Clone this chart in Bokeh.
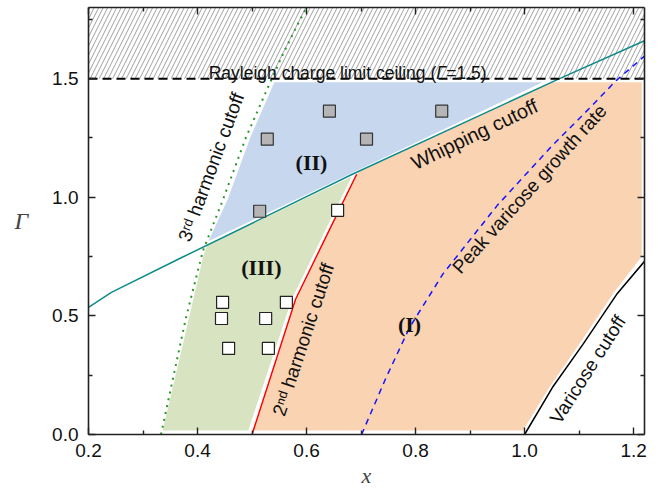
from bokeh.plotting import figure
from bokeh.models import LinearAxis, FixedTicker, Range1d, NumeralTickFormatter, CustomLabelingPolicy
from bokeh.core.properties import value
from bokeh.embed import file_html
from bokeh.resources import INLINE

# ---------------- data ----------------
x_ticks = [0.2, 0.4, 0.6, 0.8, 1.0, 1.2]
x_minor = [0.3, 0.5, 0.7, 0.9, 1.1]
y_ticks = [0.0, 0.5, 1.0, 1.5]
y_minor = [0.25, 0.75, 1.25, 1.75]

# cut-off curves (x, Gamma)
whip_x = [0.2, 0.242, 0.372, 0.684, 1.064, 1.22]
whip_y = [0.536, 0.599, 0.747, 1.097, 1.5, 1.66]
h2_x = [0.5, 0.58, 0.635, 0.692]
h2_y = [0.0, 0.57, 0.83, 1.097]
h3_x = [0.333, 0.379, 0.410, 0.446, 0.489, 0.532, 0.557, 0.581, 0.6]
h3_y = [0.0, 0.494, 0.775, 0.986, 1.253, 1.478, 1.605, 1.717, 1.8]
peak_x = [0.701, 0.745, 0.789, 0.85, 0.95, 1.05, 1.119, 1.168, 1.22]
peak_y = [0.0, 0.235, 0.451, 0.676, 0.966, 1.216, 1.375, 1.492, 1.595]
var_x = [1.0, 1.051, 1.107, 1.169, 1.22]
var_y = [0.0, 0.198, 0.38, 0.591, 0.73]
ceiling = 1.5

# regions
reg1_x = [0.503, 0.582, 0.637, 0.695, 1.05, 1.215, 1.215, 1.164, 1.103, 1.046, 0.997]
reg1_y = [0.017, 0.57, 0.83, 1.105, 1.485, 1.485, 0.75, 0.60, 0.39, 0.20, 0.017]
reg2_x = [0.42, 0.455, 0.497, 0.541, 1.033]
reg2_y = [0.815, 0.99, 1.253, 1.485, 1.485]
reg3_x = [0.336, 0.376, 0.41, 0.417, 0.683, 0.628, 0.573, 0.493]
reg3_y = [0.017, 0.409, 0.747, 0.797, 1.088, 0.83, 0.57, 0.017]

# experiments
grey_x = [0.528, 0.642, 0.710, 0.848, 0.514]
grey_y = [1.245, 1.363, 1.245, 1.363, 0.941]
open_x = [0.446, 0.444, 0.525, 0.563, 0.457, 0.530, 0.657]
open_y = [0.557, 0.489, 0.489, 0.557, 0.363, 0.363, 0.945]

X0, X1, Y0, Y1 = 0.2, 1.22, 0.0, 1.8

SANS = "Liberation Sans"
SERIF = "Liberation Serif"

p = figure(frame_width=556, frame_height=427, x_range=Range1d(X0, X1), y_range=Range1d(Y0, Y1),
           output_backend="svg", toolbar_location=None,
           min_border_left=88, min_border_right=8, min_border_top=7, min_border_bottom=0)
p.xgrid.visible = False
p.ygrid.visible = False
p.outline_line_color = None
p.background_fill_color = "white"
p.border_fill_color = "white"

# regions
p.patch(reg1_x, reg1_y, fill_color="#fad3b3", line_color=None)
p.patch(reg2_x, reg2_y, fill_color="#c6d7ee", line_color=None)
p.patch(reg3_x, reg3_y, fill_color="#d7e3c1", line_color=None)

# hatched forbidden zone above ceiling
p.quad(left=[X0 - 0.1], right=[X1 + 0.1], bottom=[ceiling], top=[Y1 + 0.1],
       fill_alpha=0, line_color=None, hatch_pattern="/", hatch_color="#a0a0a0",
       hatch_scale=9, hatch_weight=1)

# curves
p.line(h3_x, h3_y, line_color="#2c952c", line_width=2, line_dash="2 5")
p.line(whip_x, whip_y, line_color="#0f8a8a", line_width=1.5)
p.line(h2_x, h2_y, line_color="#ff0000", line_width=1.5)
p.line(peak_x, peak_y, line_color="#1414ff", line_width=1.5, line_dash="6 5")
p.line(var_x, var_y, line_color="black", line_width=1.5)
p.line([X0, X1], [ceiling, ceiling], line_color="black", line_width=2, line_dash="9 5")

# markers
p.scatter(grey_x, grey_y, marker="square", size=12, fill_color="#b5b5b5",
          line_color="#333333", line_width=1.2)
p.scatter(open_x, open_y, marker="square", size=12, fill_color="white",
          line_color="#222222", line_width=1.2)

# region labels
for lx, ly, lt in [(0.609, 1.148, "(II)"), (0.517, 0.703, "(III)"), (0.789, 0.464, "(I)")]:
    p.text([lx], [ly], text=[lt], text_font=value(SERIF), text_font_style="bold",
           text_font_size="22px", text_align="center", text_baseline="middle",
           text_color="#111111")

# curve labels
for lx, ly, lt, ang, fs in [
    (0.908, 1.266, "Whipping cutoff", 25.6, "20px"),
    (1.009, 1.035, "Peak varicose growth rate", 48.0, "19px"),
    (1.116, 0.274, "Varicose cutoff", 57.5, "19px"),
    (0.594, 0.400, "2\u207f\u1d48 harmonic cutoff", 71.7, "19px"),
    (0.425, 1.127, "3\u02b3\u1d48 harmonic cutoff", 69.7, "19px"),
]:
    p.text([lx], [ly], text=[lt], angle=ang, angle_units="deg", text_font=value(SANS),
           text_font_size=fs, text_align="center", text_baseline="middle",
           text_color="#111111")

# ceiling label in three pieces (italic Gamma)
gx, gy = 0.838, 1.523
p.text([gx], [gy], text=["Rayleigh charge limit ceiling ("], text_font=value(SANS),
       text_font_size="17.5px", text_align="right", text_baseline="alphabetic", text_color="#111111")
p.text([gx], [gy], text=["\u0393"], text_font=value(SANS), text_font_style="italic",
       text_font_size="17.5px", text_align="left", text_baseline="alphabetic", text_color="#111111")
p.text([gx], [gy], text=["=1.5)"], x_offset=10, text_font=value(SANS),
       text_font_size="17.5px", text_align="left", text_baseline="alphabetic", text_color="#111111")

# axes
xt = FixedTicker(ticks=x_ticks, minor_ticks=x_minor)
yt = FixedTicker(ticks=y_ticks, minor_ticks=y_minor)

def style(ax, labels=True):
    ax.axis_line_color = "#222222"
    ax.axis_line_width = 1.6
    ax.major_tick_in = 7
    ax.major_tick_out = 0
    ax.minor_tick_in = 4
    ax.minor_tick_out = 0
    ax.major_tick_line_width = 1.4
    ax.minor_tick_line_width = 1.4
    ax.major_tick_line_color = "#222222"
    ax.minor_tick_line_color = "#222222"
    if labels:
        ax.major_label_text_font = SANS
        ax.major_label_text_font_size = "19px"
        ax.major_label_text_color = "#111111"
    else:
        ax.major_label_policy = CustomLabelingPolicy(code="return []")
        ax.major_label_text_font_size = "0px"
        ax.major_label_standoff = 0

xa = p.xaxis[0]
xa.ticker = xt
xa.formatter = NumeralTickFormatter(format="0.0")
style(xa)
xa.major_label_standoff = 9
xa.axis_label = "x"
xa.axis_label_text_font = SERIF
xa.axis_label_text_font_style = "italic"
xa.axis_label_text_font_size = "22px"
xa.axis_label_standoff = 3

ya = p.yaxis[0]
ya.ticker = yt
ya.formatter = NumeralTickFormatter(format="0.0")
style(ya)
ya.major_label_standoff = 10
ya.axis_label = "\u0393"
ya.axis_label_orientation = "horizontal"
ya.axis_label_text_font = SERIF
ya.axis_label_text_font_style = "italic"
ya.axis_label_text_font_size = "24px"
ya.axis_label_standoff = 21

top = LinearAxis(ticker=xt)
style(top, labels=False)
p.add_layout(top, "above")
right = LinearAxis(ticker=yt)
style(right, labels=False)
p.add_layout(right, "right")

open("out.html", "w").write(file_html(p, INLINE))
